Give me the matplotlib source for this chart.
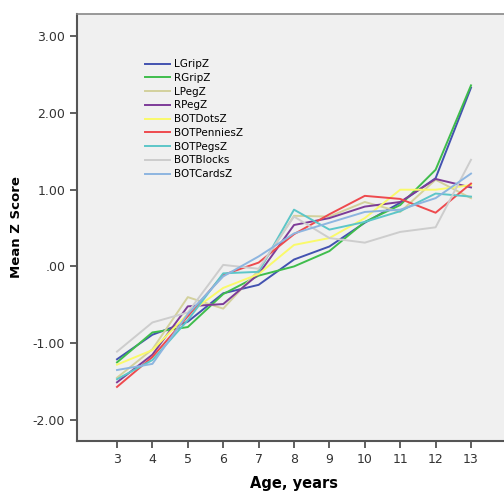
import matplotlib
matplotlib.use("Agg")
import matplotlib.pyplot as plt

ages = [3, 4, 5, 6, 7, 8, 9, 10, 11, 12, 13]

lgrip = [-1.21, -0.89, -0.72, -0.35, -0.24, 0.09, 0.26, 0.57, 0.83, 1.15, 2.33]
rgrip = [-1.25, -0.86, -0.79, -0.36, -0.12, 0.00, 0.20, 0.58, 0.80, 1.26, 2.36]
lpeg = [-1.45, -1.08, -0.40, -0.55, -0.05, 0.66, 0.65, 0.84, 0.71, 1.13, 0.89]
rpeg = [-1.51, -1.15, -0.52, -0.49, -0.10, 0.54, 0.63, 0.78, 0.84, 1.14, 1.03]
botdots = [-1.28, -1.09, -0.62, -0.28, -0.10, 0.28, 0.37, 0.63, 1.00, 1.00, 1.06]
botpennies = [-1.57, -1.18, -0.65, -0.11, 0.05, 0.42, 0.68, 0.92, 0.88, 0.70, 1.08]
botpegs = [-1.47, -1.22, -0.70, -0.09, -0.07, 0.74, 0.48, 0.58, 0.72, 0.95, 0.91]
botblocks = [-1.11, -0.73, -0.60, 0.02, -0.03, 0.65, 0.37, 0.31, 0.45, 0.51, 1.39]
botcards = [-1.35, -1.27, -0.62, -0.13, 0.13, 0.43, 0.57, 0.71, 0.74, 0.89, 1.21]

series = [
    ("LGripZ", lgrip, "#4352b0"),
    ("RGripZ", rgrip, "#3fbd4c"),
    ("LPegZ", lpeg, "#d3d19c"),
    ("RPegZ", rpeg, "#7d3c98"),
    ("BOTDotsZ", botdots, "#fafa6a"),
    ("BOTPenniesZ", botpennies, "#ee4a4e"),
    ("BOTPegsZ", botpegs, "#5cc6c8"),
    ("BOTBlocks", botblocks, "#cdcdcd"),
    ("BOTCardsZ", botcards, "#8db5e0"),
]

y_ticks = [3, 2, 1, 0, -1, -2]
y_labels = ["3.00", "2.00", "1.00", ".00", "-1.00", "-2.00"]


def main():
    fig = plt.figure(figsize=(5.04, 4.91), dpi=100)
    # plot area runs past the right edge of the picture
    ax = fig.add_axes([77 / 504, 50 / 491, 434 / 504, 427 / 491])
    ax.set_facecolor("#f0f0f0")

    for name, values, color in series:
        ax.plot(ages, values, color=color, linewidth=1.4, label=name)

    ax.set_xlim(1.87, 14.13)
    ax.set_ylim(-2.275, 3.29)
    ax.set_xticks(ages)
    ax.set_yticks(y_ticks)
    ax.set_yticklabels(y_labels)
    ax.tick_params(direction="out", length=5, width=1.2, color="#444444",
                   labelsize=9, labelcolor="#333333")

    for side in ["left", "bottom"]:
        ax.spines[side].set_linewidth(1.5)
        ax.spines[side].set_color("#555555")
    ax.spines["top"].set_linewidth(1.2)
    ax.spines["top"].set_color("#888888")
    ax.spines["right"].set_visible(False)

    ax.set_xlabel("Age, years", fontsize=10.5, fontweight="bold", labelpad=7)
    ax.set_ylabel("Mean Z Score", fontsize=9.5, fontweight="bold", labelpad=7)

    ax.legend(loc="upper left", bbox_to_anchor=(140 / 504, 1 - 54 / 491),
              bbox_transform=fig.transFigure, frameon=False, fontsize=7.5,
              handlelength=2.4, handletextpad=0.4, labelspacing=0.36,
              borderpad=0)

    fig.savefig("out.png", dpi=100)


if __name__ == "__main__":
    main()
